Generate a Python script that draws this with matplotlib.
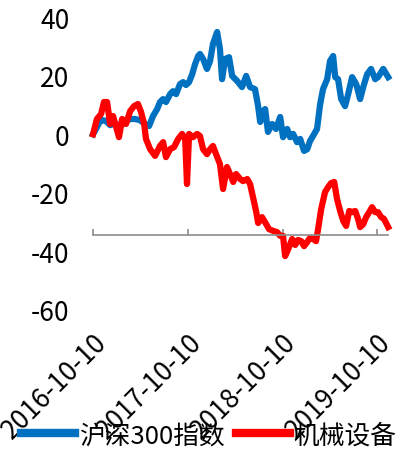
import matplotlib
matplotlib.use("Agg")
import matplotlib.pyplot as plt
import matplotlib.dates as mdates
import pandas as pd

plt.rcParams["font.family"] = ["Noto Sans CJK SC", "DejaVu Sans"]
plt.rcParams["axes.unicode_minus"] = False

BLUE = "#0070C0"
RED = "#FF0000"
AXIS_GREY = "#8C8C8C"
FS = 19

# cumulative return (%) since 2016-10-10
hs300_dates = [
    "2016-10-10", "2016-10-25", "2016-11-06", "2016-11-18", "2016-11-29", "2016-12-15",
    "2017-01-03", "2017-01-22", "2017-02-10", "2017-03-02", "2017-03-21", "2017-04-09",
    "2017-04-28", "2017-05-14", "2017-05-29", "2017-06-14", "2017-06-25", "2017-07-07",
    "2017-07-18", "2017-08-03", "2017-08-14", "2017-08-26", "2017-09-10", "2017-09-22",
    "2017-10-03", "2017-10-15", "2017-10-27", "2017-11-07", "2017-11-19", "2017-11-26",
    "2017-12-08", "2017-12-23", "2018-01-04", "2018-01-15", "2018-01-31", "2018-02-11",
    "2018-02-19", "2018-03-03", "2018-03-18", "2018-03-30", "2018-04-18", "2018-05-07",
    "2018-05-23", "2018-06-07", "2018-06-26", "2018-07-08", "2018-07-16", "2018-07-27",
    "2018-08-04", "2018-08-15", "2018-08-31", "2018-09-15", "2018-10-01", "2018-10-12",
    "2018-10-28", "2018-11-08", "2018-11-20", "2018-12-05", "2018-12-17", "2019-01-01",
    "2019-01-13", "2019-01-24", "2019-02-09", "2019-02-20", "2019-03-04", "2019-03-15",
    "2019-03-31", "2019-04-11", "2019-04-23", "2019-05-01", "2019-05-12", "2019-05-24",
    "2019-06-08", "2019-06-20", "2019-07-05", "2019-07-21", "2019-08-05", "2019-08-17",
    "2019-09-01", "2019-09-16", "2019-10-02", "2019-10-13", "2019-11-02", "2019-11-21",
]
hs300_values = [
    0.0, 2.4, 4.5, 4.8, 4.5, 3.1,
    3.8, 2.5, 4.2, 5.2, 5.2, 4.8,
    3.5, 2.8, 6.2, 8.6, 11.0, 12.0,
    11.0, 13.7, 14.7, 13.7, 17.1, 17.8,
    16.8, 17.8, 20.5, 23.9, 26.7, 27.4,
    25.7, 22.3, 25.0, 30.8, 34.9, 29.1,
    18.8, 25.7, 26.3, 19.9, 18.2, 16.1,
    19.9, 16.1, 15.4, 9.6, 4.2, 7.9,
    8.6, 0.8, 3.5, 1.8, 5.9, -1.0,
    1.8, -1.0, 0.1, -2.7, -1.6, -5.7,
    -5.1, -2.3, 0.1, 1.8, 10.3, 15.4,
    18.8, 25.0, 26.7, 19.5, 18.8, 12.0,
    9.6, 13.7, 19.5, 17.1, 12.0, 16.1,
    20.5, 22.3, 18.8, 19.5, 22.3, 19.5,
]

jixie_dates = [
    "2016-10-10", "2016-10-25", "2016-11-10", "2016-11-21", "2016-12-03", "2016-12-15",
    "2016-12-26", "2017-01-07", "2017-01-18", "2017-01-30", "2017-02-14", "2017-03-02",
    "2017-03-17", "2017-04-01", "2017-04-13", "2017-04-25", "2017-05-02", "2017-05-18",
    "2017-06-06", "2017-06-25", "2017-07-07", "2017-07-18", "2017-08-03", "2017-08-18",
    "2017-09-03", "2017-09-18", "2017-09-30", "2017-10-07", "2017-10-15", "2017-10-30",
    "2017-11-15", "2017-11-26", "2017-12-08", "2017-12-23", "2018-01-04", "2018-01-15",
    "2018-01-27", "2018-02-11", "2018-02-23", "2018-03-10", "2018-03-22", "2018-04-03",
    "2018-04-14", "2018-04-30", "2018-05-11", "2018-05-27", "2018-06-07", "2018-06-19",
    "2018-06-30", "2018-07-08", "2018-07-23", "2018-08-08", "2018-08-19", "2018-09-04",
    "2018-09-19", "2018-10-01", "2018-10-12", "2018-10-20", "2018-11-01", "2018-11-16",
    "2018-11-28", "2018-12-09", "2018-12-21", "2019-01-01", "2019-01-13", "2019-01-24",
    "2019-02-05", "2019-02-16", "2019-02-24", "2019-03-08", "2019-03-23", "2019-04-04",
    "2019-04-15", "2019-04-27", "2019-05-08", "2019-05-20", "2019-06-01", "2019-06-12",
    "2019-06-24", "2019-07-05", "2019-07-17", "2019-07-28", "2019-08-05", "2019-08-17",
    "2019-08-28", "2019-09-09", "2019-09-20", "2019-10-02", "2019-10-13", "2019-10-25",
    "2019-11-05", "2019-11-21",
]
jixie_values = [
    0.0, 5.2, 6.9, 11.0, 11.0, 3.5,
    6.2, 2.5, -1.0, 5.2, 3.5, 7.9,
    9.6, 10.3, 7.6, 3.5, -1.6, -5.1,
    -7.4, -4.0, -2.7, -7.8, -5.1, -4.4,
    -1.6, 0.1, -1.6, -17.0, 0.1, -1.0,
    0.1, -0.6, -5.1, -6.8, -5.1, -4.0,
    -6.8, -10.2, -18.7, -11.2, -13.6, -16.3,
    -13.6, -15.3, -16.0, -15.3, -17.0, -21.8,
    -26.2, -30.3, -28.3, -30.7, -32.4, -33.0,
    -33.4, -34.7, -34.7, -41.6, -39.2, -35.8,
    -37.8, -36.1, -36.5, -38.2, -36.8, -35.4,
    -35.8, -36.5, -32.4, -25.5, -19.7, -18.0,
    -16.7, -16.3, -22.1, -26.2, -29.6, -31.3,
    -26.2, -26.6, -26.2, -28.9, -31.7, -30.7,
    -28.3, -26.6, -24.9, -26.6, -26.6, -28.3,
    -28.9, -31.7,
]

tick_dates = ["2016-10-10", "2017-10-10", "2018-10-10", "2019-10-10"]
y_ticks = [40, 20, 0, -20, -40, -60]
axis_cross = -34.5

hs300 = pd.Series(hs300_values, index=pd.to_datetime(hs300_dates))
jixie = pd.Series(jixie_values, index=pd.to_datetime(jixie_dates))
ticks = pd.to_datetime(tick_dates)

fig = plt.figure(figsize=(4.01, 4.52), dpi=100)
ax = fig.add_axes([0.232, 0.312, 0.736, 0.648])

ax.plot(hs300.index, hs300.values, color=BLUE, lw=4.5, label="沪深300指数",
        solid_joinstyle="round", clip_on=False)
ax.plot(jixie.index, jixie.values, color=RED, lw=4.5, label="机械设备",
        solid_joinstyle="round", clip_on=False)

ax.set_xlim(hs300.index[0], hs300.index[-1])
ax.set_ylim(-60, 40)
ax.set_yticks(y_ticks)
ax.tick_params(axis="y", length=0, pad=17, labelsize=FS)

# category axis crosses the value axis inside the plot, labels stay low
for s in ("left", "right", "top"):
    ax.spines[s].set_visible(False)
ax.spines["bottom"].set_position(("data", axis_cross))
ax.spines["bottom"].set_color(AXIS_GREY)
ax.spines["bottom"].set_linewidth(1.2)
ax.set_xticks(ticks)
ax.tick_params(axis="x", direction="in", length=4, width=1.2,
               color=AXIS_GREY, labelbottom=False)

low = ax.secondary_xaxis(0.0)
low.spines["bottom"].set_visible(False)
low.set_xticks(ticks)
low.xaxis.set_major_formatter(mdates.DateFormatter("%Y-%m-%d"))
low.tick_params(axis="x", length=0, pad=13, labelsize=FS)
for lab in low.get_xticklabels():
    lab.set_rotation(45)
    lab.set_ha("right")
    lab.set_va("top")
    lab.set_rotation_mode("anchor")

fig.legend(loc="center left", bbox_to_anchor=(0.052, 0.035), ncol=2,
           frameon=False, fontsize=18.5, handlelength=2.1, handletextpad=0.15,
           columnspacing=0.45, borderpad=0, borderaxespad=0)
for h in fig.legends[0].get_lines():
    h.set_linewidth(6)

fig.savefig("out.png", dpi=100)
